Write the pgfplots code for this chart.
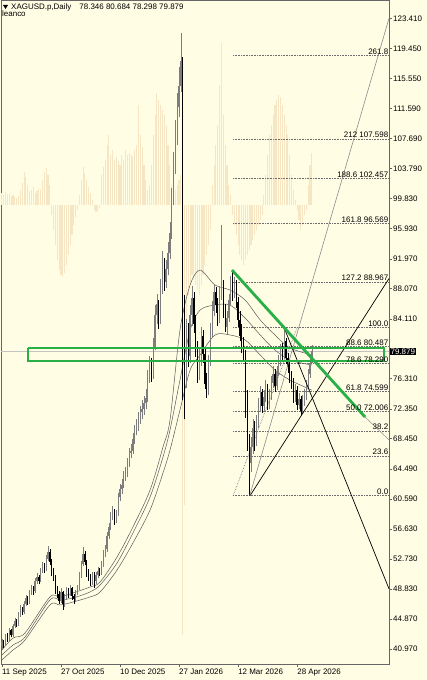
\documentclass[border=0pt]{standalone}
\usepackage{fontspec}
\setmainfont{Liberation Sans}
\usepackage{pgfplots}
\usepackage{pgfplotstable}
\pgfplotsset{compat=1.18}

\definecolor{bg}{RGB}{255,253,228}
\definecolor{osc}{RGB}{246,230,196}
\definecolor{fibc}{RGB}{110,110,110}
\definecolor{bull}{RGB}{125,125,125}
\definecolor{bear}{RGB}{0,0,0}
\definecolor{mac}{RGB}{90,90,90}
\definecolor{grn}{RGB}{40,175,70}
\definecolor{bid}{RGB}{195,195,195}
\newcommand{\mtfont}{\fontsize{8}{9}\selectfont}

% daily bars, XAGUSD
\pgfplotstableread{
i o h l c
0 41.3 42.3 40.9 41.9
1 41.9 42.2 41.1 41.5
2 41.5 42.9 41.3 42.6
3 42.6 43.0 41.9 42.2
4 42.2 43.7 42.0 43.4
5 43.4 43.6 42.5 42.8
6 42.8 44.3 42.6 44.0
7 44.0 45.0 43.7 44.6
8 44.6 44.9 43.8 44.2
9 44.2 45.8 44.0 45.5
10 45.5 46.7 45.2 46.3
11 46.3 46.5 45.4 45.8
12 45.8 47.3 45.6 46.9
13 46.9 48.0 46.6 47.6
14 47.6 47.9 46.7 47.1
15 47.1 48.7 46.9 48.3
16 48.3 49.4 48.0 48.9
17 48.9 49.2 48.0 48.5
18 48.5 50.2 48.3 49.8
19 49.8 50.9 49.5 50.4
20 50.4 50.7 49.5 49.9
21 49.9 51.6 49.7 51.2
22 51.2 52.4 50.9 51.9
23 51.9 52.2 50.9 51.4
24 51.4 53.2 51.2 52.8
25 52.8 54.4 52.5 53.6
26 53.6 54.0 52.0 52.4
27 52.4 52.8 50.5 50.9
28 50.9 51.5 49.8 50.3
29 50.3 50.6 48.2 48.6
30 48.6 49.2 47.6 48.1
31 48.1 48.5 46.9 47.3
32 47.3 48.9 47.0 48.4
33 48.4 48.6 46.1 46.9
34 46.9 48.2 46.5 47.8
35 47.8 49.1 47.4 48.6
36 48.6 48.9 47.7 48.2
37 48.2 49.4 47.9 48.9
38 48.9 49.1 47.4 47.9
39 47.9 48.2 46.9 47.5
40 47.5 48.7 47.1 48.3
41 48.3 49.3 48.0 48.9
42 48.9 51.0 48.7 50.6
43 50.6 52.5 50.3 52.1
44 52.1 54.3 51.8 53.4
45 53.4 53.8 51.9 52.3
46 52.3 52.6 50.4 50.9
47 50.9 51.4 49.9 50.4
48 50.4 50.8 49.2 49.6
49 49.6 51.1 49.3 50.7
50 50.7 51.0 49.0 49.8
51 49.8 51.0 49.5 50.6
52 50.6 51.7 50.2 51.2
53 51.2 51.6 50.5 51.0
54 51.0 52.5 50.7 52.0
55 52.0 53.9 51.7 53.4
56 53.4 54.6 53.0 54.0
57 54.0 56.3 53.7 55.8
58 55.8 57.5 55.4 56.9
59 56.9 58.9 56.5 58.3
60 58.3 59.6 57.8 58.9
61 58.9 59.3 57.2 57.9
62 57.9 59.2 57.4 58.7
63 58.7 61.4 58.4 60.8
64 60.8 62.6 60.3 61.9
65 61.9 63.2 61.2 62.4
66 62.4 64.3 62.0 63.6
67 63.6 64.8 62.9 63.9
68 63.9 65.9 63.5 65.2
69 65.2 67.3 64.8 66.6
70 66.6 67.8 65.9 66.9
71 66.9 69.2 66.5 68.4
72 68.4 70.3 67.8 69.5
73 69.5 71.0 68.9 70.1
74 70.1 72.0 69.5 71.2
75 71.2 72.8 70.4 71.9
76 71.9 73.5 71.0 72.4
77 72.4 74.0 71.6 73.1
78 73.1 74.9 72.3 73.8
79 73.8 77.4 73.2 76.5
80 76.5 79.3 75.8 78.2
81 78.2 79.0 75.9 76.9
82 76.9 81.6 76.3 80.5
83 80.5 85.9 80.0 84.6
84 84.6 87.4 83.5 86.1
85 86.1 86.6 82.8 84.0
86 84.0 89.3 83.4 88.1
87 88.1 93.0 87.4 91.5
88 91.5 92.1 87.8 89.0
89 89.0 91.8 88.1 90.6
90 90.6 94.2 89.8 92.8
91 92.8 96.8 92.0 95.3
92 95.3 101.2 94.6 99.8
93 99.8 105.9 99.0 104.2
94 104.2 110.1 103.1 108.3
95 108.3 113.6 106.9 111.8
96 111.8 117.0 110.5 114.6
97 114.6 121.5 113.8 117.9
98 117.2 118.4 73.5 79.5
99 79.5 87.2 71.0 76.2
100 76.2 84.1 75.1 82.4
101 82.4 83.6 77.8 79.3
102 79.3 86.0 78.4 84.6
103 84.6 88.4 83.2 86.8
104 86.8 87.6 82.3 83.5
105 83.5 84.6 79.2 80.1
106 80.1 81.2 75.8 77.2
107 77.2 80.3 76.1 78.8
108 78.8 83.1 78.0 81.9
109 81.9 82.7 78.4 79.5
110 79.5 80.2 74.9 75.6
111 75.6 77.0 73.8 74.8
112 74.8 79.4 74.2 78.4
113 78.4 83.6 77.9 82.5
114 82.5 86.4 81.8 85.2
115 85.2 88.6 84.5 87.6
116 87.6 88.3 84.9 86.0
117 86.0 86.9 83.2 84.1
118 84.1 88.4 83.6 87.3
119 87.3 96.4 86.6 88.5
120 88.5 89.2 84.3 85.2
121 85.2 86.1 82.4 83.0
122 83.0 85.2 82.1 84.3
123 84.3 87.4 83.7 86.6
124 86.6 89.7 85.9 88.9
125 88.9 90.5 86.5 87.4
126 87.4 89.6 86.8 88.8
127 88.8 89.2 85.5 86.3
128 86.3 87.0 83.1 84.0
129 84.0 85.1 81.2 81.9
130 81.9 83.4 79.6 80.2
131 80.2 81.7 78.6 79.3
132 79.3 80.0 71.2 72.4
133 72.4 74.8 66.9 67.9
134 67.9 69.1 61.02 65.3
135 65.3 68.7 64.1 67.4
136 67.4 71.0 66.5 69.9
137 69.9 70.8 66.9 68.2
138 68.2 71.6 67.5 70.5
139 70.5 73.8 69.8 72.9
140 72.9 75.4 71.9 74.6
141 74.6 75.0 71.8 72.8
142 72.8 74.8 72.0 73.9
143 73.9 76.1 73.2 75.2
144 75.2 75.6 72.2 73.0
145 73.0 74.9 72.3 74.1
146 74.1 76.7 73.5 75.8
147 75.8 77.9 75.1 76.9
148 76.9 77.6 74.6 75.4
149 75.4 78.0 74.8 77.2
150 77.2 79.4 76.6 78.6
151 78.6 80.9 77.9 80.1
152 80.1 81.0 78.6 79.4
153 79.4 82.99 78.9 81.2
154 81.2 81.6 78.2 79.0
155 79.0 79.6 77.1 77.8
156 77.8 78.6 75.7 76.4
157 76.4 77.3 75.0 75.9
158 75.9 76.4 73.1 73.9
159 73.9 75.6 73.3 74.8
160 74.8 75.4 72.2 72.9
161 72.9 74.4 72.3 73.6
162 73.6 74.0 71.5 72.1
163 72.1 74.2 71.7 73.4
164 73.4 74.9 72.8 74.1
165 74.1 76.2 73.5 75.5
166 75.5 77.6 74.9 76.9
167 76.9 78.9 76.4 78.346
168 78.346 80.684 78.298 79.879
}\candles

% leanco oscillator (its own units)
\pgfplotstableread[row sep=\\]{
i v\\ 0 12\\ 1 10\\ 2 13\\ 3 11\\ 4 12\\ 5 9\\ 6 10\\ 7 8\\ 8 7\\ 9 9\\
10 15\\ 11 22\\ 12 33\\ 13 28\\ 14 20\\ 15 14\\ 16 15\\ 17 18\\ 18 12\\ 19 14\\
20 16\\ 21 15\\ 22 25\\ 23 33\\ 24 37\\ 25 30\\ 26 20\\ 27 -10\\ 28 -25\\ 29 -40\\
30 -55\\ 31 -65\\ 32 -70\\ 33 -72\\ 34 -68\\ 35 -60\\ 36 -50\\ 37 -40\\ 38 -30\\ 39 -20\\
40 -12\\ 41 -5\\ 42 10\\ 43 25\\ 44 38\\ 45 32\\ 46 25\\ 47 18\\ 48 12\\ 49 5\\
50 -5\\ 51 -7\\ 52 -6\\ 53 -3\\ 54 30\\ 55 38\\ 56 45\\ 57 60\\ 58 70\\ 59 50\\
60 55\\ 61 45\\ 62 48\\ 63 44\\ 64 40\\ 65 50\\ 66 45\\ 67 55\\ 68 50\\ 69 52\\
70 50\\ 71 48\\ 72 55\\ 73 60\\ 74 100\\ 75 70\\ 76 58\\ 77 40\\ 78 25\\ 79 15\\
80 20\\ 81 40\\ 82 70\\ 83 90\\ 84 112\\ 85 105\\ 86 100\\ 87 95\\ 88 90\\ 89 80\\
90 60\\ 91 40\\ 92 20\\ 93 10\\ 94 15\\ 95 20\\ 96 25\\ 97 30\\ 98 -430\\ 99 -300\\
100 -120\\ 101 -90\\ 102 -80\\ 103 -70\\ 104 -75\\ 105 -80\\ 106 -85\\ 107 -90\\ 108 -80\\ 109 -70\\
110 -60\\ 111 -50\\ 112 -40\\ 113 -25\\ 114 20\\ 115 40\\ 116 60\\ 117 80\\ 118 120\\ 119 162\\
120 90\\ 121 60\\ 122 40\\ 123 20\\ 124 10\\ 125 -10\\ 126 -20\\ 127 -30\\ 128 -40\\ 129 -50\\
130 -55\\ 131 -60\\ 132 -55\\ 133 -50\\ 134 -45\\ 135 -40\\ 136 -35\\ 137 -30\\ 138 -25\\ 139 -20\\
140 -15\\ 141 -10\\ 142 10\\ 143 30\\ 144 50\\ 145 70\\ 146 80\\ 147 90\\ 148 100\\ 149 105\\
150 110\\ 151 108\\ 152 100\\ 153 90\\ 154 80\\ 155 70\\ 156 50\\ 157 30\\ 158 15\\ 159 5\\
160 -5\\ 161 -15\\ 162 -25\\ 163 -20\\ 164 -10\\ 165 -5\\ 166 20\\ 167 40\\ 168 52\\
}\osctab

\begin{document}
\begin{tikzpicture}
\fill[bg] (0,0) rectangle (427bp,680bp);
\begin{axis}[
  at={(1bp,16bp)}, anchor=south west,
  scale only axis, width=388bp, height=664bp,
  xmin=-0.5, xmax=209.8, ymin=39.01, ymax=125.81,
  axis line style={draw=black!60, line width=0.7bp},
  xtick={0,32,64,96,128,160},
  xticklabels={11 Sep 2025, 27 Oct 2025, 10 Dec 2025, 27 Jan 2026, 12 Mar 2026, 28 Apr 2026},
  xtick pos=bottom, ytick pos=right, yticklabel pos=right,
  tick align=outside, major tick length=3bp,
  tick style={black!60, line width=0.7bp},
  ytick={123.41,119.45,115.55,111.59,107.69,103.79,99.83,95.93,91.97,88.07,84.11,
         76.31,72.35,68.45,64.49,60.59,56.63,52.73,48.83,44.87,40.97},
  /pgf/number format/assume math mode=true,
  yticklabel style={/pgf/number format/.cd, fixed, fixed zerofill, precision=3, 1000 sep={},
     /tikz/.cd, anchor=west, inner sep=0pt, xshift=1bp, font=\mtfont},
  xticklabel style={anchor=north west, inner sep=0pt, yshift=-2bp, font=\mtfont},
  clip mode=individual,
]
% oscillator histogram around its zero line
\addplot[osc, line width=1.1bp, quiver={u=0, v=\thisrow{v}/7.65}]
  table[x=i, y expr=99.01]{\osctab};

% fibonacci levels
\pgfplotsinvokeforeach{61.019,66.205,69.413,72.006,74.599,78.29,80.487,82.994,88.967,96.569,102.457,107.598,118.55}{
  \addplot[fibc, densely dotted, line width=0.6bp] coordinates {(125.3,#1) (209.8,#1)};
}
\addplot[fibc, densely dotted, line width=0.6bp] coordinates {(125.3,61.019) (160,82.994)};

% bid line
\addplot[bid, line width=0.5bp] coordinates {(-0.5,79.879) (209.8,79.879)};

% moving averages
\addplot[mac, line width=0.5bp, smooth] coordinates {
(0,40.84) (6,42.41) (12.5,43.06) (26,47.77) (31.5,47.77) (38.5,48.29) (47.7,49.07)
(53.2,49.73) (62.4,53.00) (71,56.92) (80.3,61.75) (87.3,67.38) (91.1,70.90) (96.5,82.67)
(102,88.55) (107.4,90.51) (115.5,88.55) (123.6,87.90) (131.8,86.59) (140,83.98)
(148,82.02) (156.1,80.32) (168.1,79.40)};
\addplot[mac, line width=0.5bp, smooth] coordinates {
(0,40.19) (6,41.49) (12.5,42.54) (26,47.38) (31.5,47.38) (38.5,47.64) (47.7,48.42)
(53.2,49.34) (62.4,52.21) (71,56.13) (80.3,60.84) (87.3,66.07) (91.1,69.60) (96.5,76.13)
(102,82.67) (107.4,85.28) (115.5,85.94) (123.6,85.94) (131.8,84.24) (140,82.02)
(148,80.06) (156.1,78.75) (168.1,78.09)};
\addplot[mac, line width=0.5bp, smooth] coordinates {
(0,39.53) (6,40.84) (12.5,42.15) (26,46.72) (31.5,46.72) (38.5,47.11) (47.7,47.77)
(53.2,48.42) (62.4,51.30) (71,54.83) (80.3,59.14) (87.3,63.98) (91.1,66.98) (96.5,72.21)
(102,77.44) (107.4,79.40) (115.5,82.02) (123.6,82.02) (131.8,81.37) (140,79.40)
(148,77.44) (156.1,76.13) (168.1,74.80)};

% candles: wicks and bodies
\addplot[bull, line width=0.6bp, quiver={u=0, v=\thisrow{h}-\thisrow{l}},
  restrict expr to domain={\thisrow{c}-\thisrow{o}}{0:1000}] table[x=i, y=l]{\candles};
\addplot[bull, line width=1.3bp, quiver={u=0, v=\thisrow{c}-\thisrow{o}},
  restrict expr to domain={\thisrow{c}-\thisrow{o}}{0:1000}] table[x=i, y=o]{\candles};
\addplot[bear, line width=0.6bp, quiver={u=0, v=\thisrow{h}-\thisrow{l}},
  restrict expr to domain={\thisrow{o}-\thisrow{c}}{0.0001:1000}] table[x=i, y=l]{\candles};
\addplot[bear, line width=1.3bp, quiver={u=0, v=\thisrow{o}-\thisrow{c}},
  restrict expr to domain={\thisrow{o}-\thisrow{c}}{0.0001:1000}] table[x=i, y=c]{\candles};

% trend lines
\addplot[black, line width=0.7bp] coordinates {(134.5,61.02) (209.8,89.4)};
\addplot[black!45, line width=0.6bp] coordinates {(134.3,61.02) (209.8,123.41)};
\addplot[black, line width=0.7bp] coordinates {(152.9,83.0) (209.8,48.83)};
\addplot[black!45, line width=0.5bp] coordinates {(196.8,71.30) (209.8,68.3)};

% green box and falling line
\addplot[grn, line width=2bp, line join=miter] coordinates {
(14.1,80.36) (207.1,80.36) (207.1,78.62) (14.1,78.62) (14.1,80.36)};
\addplot[grn, line width=2.8bp] coordinates {(124.7,90.51) (196.8,71.30)};

% fibonacci labels
\begin{scope}[every node/.style={anchor=base east, inner sep=0pt, yshift=1.5bp, font=\mtfont}]
\node at (axis cs:209.5,118.55) {261.8};
\node at (axis cs:209.5,107.598) {212 107.598};
\node at (axis cs:209.5,102.457) {188.6 102.457};
\node at (axis cs:209.5,96.569) {161.8 96.569};
\node at (axis cs:209.5,88.967) {127.2 88.967};
\node at (axis cs:209.5,82.994) {100.0};
\node at (axis cs:209.5,80.487) {88.6 80.487};
\node at (axis cs:209.5,78.29) {78.6 78.290};
\node at (axis cs:209.5,74.599) {61.8 74.599};
\node at (axis cs:209.5,72.006) {50.0 72.006};
\node at (axis cs:209.5,69.413) {38.2};
\node at (axis cs:209.5,66.205) {23.6};
\node at (axis cs:209.5,61.019) {0.0};
\end{scope}
\node[anchor=west, fill=black, text=white, inner sep=1bp, font=\mtfont]
  at (axis cs:210.0,79.879) {79.879};
\end{axis}
\fill[black] (3bp,675bp) -- (8bp,675bp) -- (5.5bp,671bp) -- cycle;
\node[anchor=base west, inner sep=0pt, font=\mtfont] at (11bp,670bp)
  {XAGUSD.p,Daily\hspace{8bp}78.346 80.684 78.298 79.879};
\node[anchor=base west, inner sep=0pt, font=\mtfont] at (2bp,663.5bp) {leanco};
\pgfresetboundingbox
\path (0,0) rectangle (427bp,680bp);
\end{tikzpicture}
\end{document}
